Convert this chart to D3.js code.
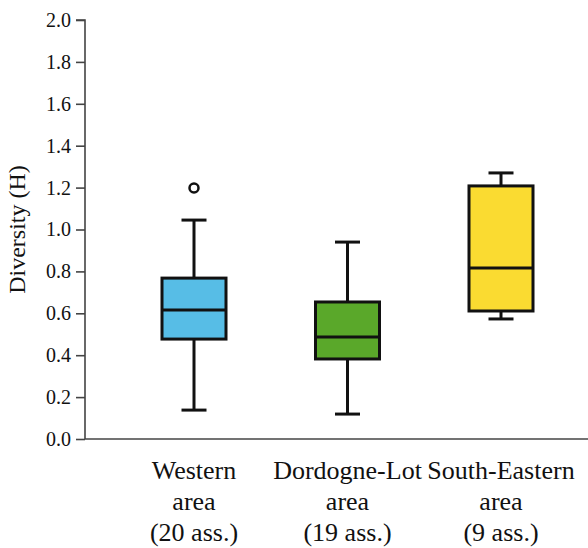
<!DOCTYPE html>
<html><head><meta charset="utf-8">
<script src="https://cdn.jsdelivr.net/npm/d3@7"></script>
<style>body{margin:0;background:#fff}svg{display:block;font-family:'Liberation Serif','Times New Roman',serif}</style>
</head><body>
<svg id="chart" width="588" height="548"></svg>
<script>
const categories = ["Western|area|(20 ass.)", "Dordogne-Lot|area|(19 ass.)", "South-Eastern|area|(9 ass.)"];
const whiskerLow = [0.138, 0.119, 0.573];
const q1 = [0.477, 0.382, 0.611];
const median = [0.616, 0.487, 0.816];
const q3 = [0.768, 0.654, 1.208];
const whiskerHigh = [1.045, 0.940, 1.270];
const outliers = [[1.198], [], []];
const colors = ["#57bde6", "#5aa82a", "#fadb31"];
const yTicks = [0, 0.2, 0.4, 0.6, 0.8, 1.0, 1.2, 1.4, 1.6, 1.8, 2.0];

const svg = d3.select("#chart");
const margin = {left: 85, top: 20, bottom: 109};
const H = 548;
const y = d3.scaleLinear().domain([0, 2]).range([H - margin.bottom, margin.top]);
const x = d3.scalePoint().domain(categories).range([194, 501]);
const font = "'Liberation Serif','Times New Roman',serif";

// axes
const yAxis = svg.append("g").attr("transform", `translate(${margin.left},0)`)
  .call(d3.axisLeft(y).tickValues(yTicks).tickFormat(d3.format(".1f")).tickSize(9).tickPadding(5));
yAxis.attr("font-family", font).attr("font-size", 20);
yAxis.select(".domain").attr("stroke", "#444").attr("stroke-width", 1.6).attr("d", `M-9,${y(2)}H0V${y(0)}`);
yAxis.selectAll(".tick line").attr("stroke", "#444").attr("stroke-width", 1.6);
yAxis.selectAll(".tick text").attr("font-family", font).attr("font-size", 20).attr("fill", "#111");

svg.append("line").attr("x1", margin.left).attr("x2", 588).attr("y1", y(0)).attr("y2", y(0))
  .attr("stroke", "#444").attr("stroke-width", 1.6);

svg.append("text").attr("transform", `translate(25,${(y(0)+y(2))/2}) rotate(-90)`)
  .attr("text-anchor", "middle").attr("font-family", font).attr("font-size", 24).attr("fill", "#111")
  .text("Diversity (H)");

// boxes
const bw = 64, cap = 25;
categories.forEach((c, i) => {
  const g = svg.append("g");
  const cx = x(c);
  g.append("line").attr("x1", cx).attr("x2", cx).attr("y1", y(whiskerLow[i])).attr("y2", y(q1[i]))
    .attr("stroke", "#111").attr("stroke-width", 3);
  g.append("line").attr("x1", cx).attr("x2", cx).attr("y1", y(q3[i])).attr("y2", y(whiskerHigh[i]))
    .attr("stroke", "#111").attr("stroke-width", 3);
  [whiskerLow[i], whiskerHigh[i]].forEach(v => {
    g.append("line").attr("x1", cx - cap/2).attr("x2", cx + cap/2).attr("y1", y(v)).attr("y2", y(v))
      .attr("stroke", "#111").attr("stroke-width", 3);
  });
  g.append("rect").attr("x", cx - bw/2).attr("width", bw).attr("y", y(q3[i])).attr("height", y(q1[i]) - y(q3[i]))
    .attr("fill", colors[i]).attr("stroke", "#111").attr("stroke-width", 3);
  g.append("line").attr("x1", cx - bw/2).attr("x2", cx + bw/2).attr("y1", y(median[i])).attr("y2", y(median[i]))
    .attr("stroke", "#111").attr("stroke-width", 3);
  outliers[i].forEach(v => {
    g.append("circle").attr("cx", cx).attr("cy", y(v)).attr("r", 4.5)
      .attr("fill", "#fff").attr("stroke", "#111").attr("stroke-width", 2.5);
  });
  const t = svg.append("text").attr("text-anchor", "middle").attr("font-family", font)
    .attr("font-size", 26).attr("fill", "#111");
  c.split("|").forEach((line, k) => {
    t.append("tspan").attr("x", cx).attr("y", 479 + k * 31).text(line);
  });
});
</script>
</body></html>
